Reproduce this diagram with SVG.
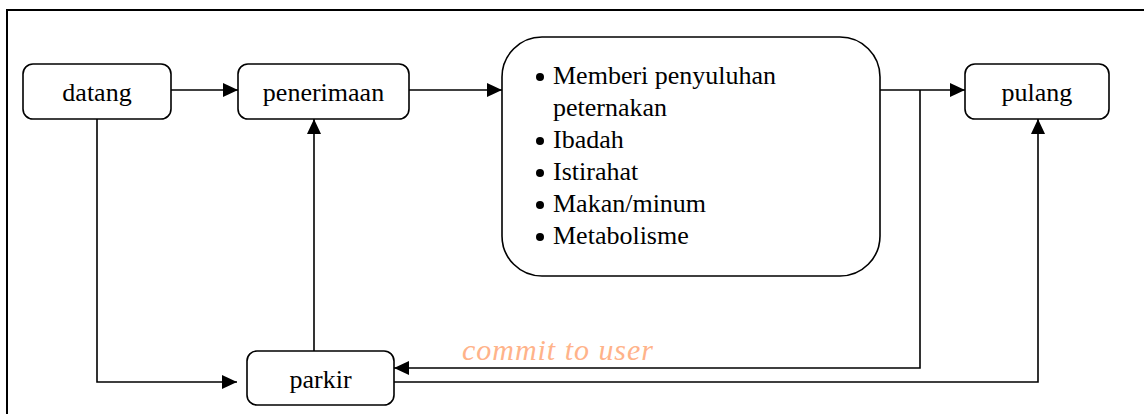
<svg xmlns="http://www.w3.org/2000/svg" width="1144" height="414" viewBox="0 0 1144 414">
  <style>
    .box { fill: #ffffff; stroke: #000000; stroke-width: 1.6; }
    .lbl { font-family: "Liberation Serif", "Times New Roman", serif; font-size: 26px; fill: #000000; }
    .wire { fill: none; stroke: #000000; stroke-width: 1.6; }
    .frame { fill: none; stroke: #000000; stroke-width: 2; }
    .mark { font-family: "Liberation Serif", "Times New Roman", serif; font-style: italic; font-size: 30px; fill: #FFB38A; }
  </style>
  <defs>
    <marker id="arrow" markerWidth="15" markerHeight="14" refX="15" refY="7" orient="auto" markerUnits="userSpaceOnUse">
      <path d="M0,0 L15,7 L0,14 Z" fill="#000000"/>
    </marker>
  </defs>

  <rect x="0" y="0" width="1144" height="414" fill="#ffffff"/>
  <!-- outer frame (runs past the right and bottom edges) -->
  <rect class="frame" x="7" y="10" width="1150" height="420"/>

  <!-- connectors -->
  <g id="connectors">
    <line class="wire" x1="171" y1="90" x2="238" y2="90" marker-end="url(#arrow)"/>
    <line class="wire" x1="409" y1="90" x2="502" y2="90" marker-end="url(#arrow)"/>
    <line class="wire" x1="880" y1="90" x2="965" y2="90" marker-end="url(#arrow)"/>
    <polyline class="wire" points="920,90 920,368 394,368" marker-end="url(#arrow)"/>
    <polyline class="wire" points="97,119 97,382 237,382" marker-end="url(#arrow)"/>
    <line class="wire" x1="314" y1="351" x2="314" y2="119" marker-end="url(#arrow)"/>
    <polyline class="wire" points="394,382 1038,382 1038,119" marker-end="url(#arrow)"/>
  </g>

  <g id="datang">
    <rect class="box" x="23" y="64" width="148" height="55" rx="10"/>
    <text class="lbl" x="97" y="101" text-anchor="middle">datang</text>
  </g>

  <g id="penerimaan">
    <rect class="box" x="238" y="64" width="171" height="55" rx="10"/>
    <text class="lbl" x="323.5" y="101" text-anchor="middle">penerimaan</text>
  </g>

  <g id="kegiatan">
    <rect class="box" x="502" y="37" width="378" height="239" rx="40"/>
    <g fill="#000000">
      <circle cx="540" cy="77" r="4"/>
      <circle cx="540" cy="141" r="4"/>
      <circle cx="540" cy="173" r="4"/>
      <circle cx="540" cy="205" r="4"/>
      <circle cx="540" cy="237" r="4"/>
    </g>
    <text class="lbl" x="553" y="84">Memberi penyuluhan</text>
    <text class="lbl" x="553" y="116">peternakan</text>
    <text class="lbl" x="553" y="148">Ibadah</text>
    <text class="lbl" x="553" y="180">Istirahat</text>
    <text class="lbl" x="553" y="212">Makan/minum</text>
    <text class="lbl" x="553" y="244">Metabolisme</text>
  </g>

  <g id="pulang">
    <rect class="box" x="965" y="64" width="144" height="55" rx="10"/>
    <text class="lbl" x="1037" y="101" text-anchor="middle">pulang</text>
  </g>

  <g id="parkir">
    <rect class="box" x="247" y="351" width="147" height="54" rx="10"/>
    <text class="lbl" x="320.5" y="388" text-anchor="middle">parkir</text>
  </g>

  <text class="mark" x="462" y="360" textLength="191" lengthAdjust="spacing">commit to user</text>
</svg>
